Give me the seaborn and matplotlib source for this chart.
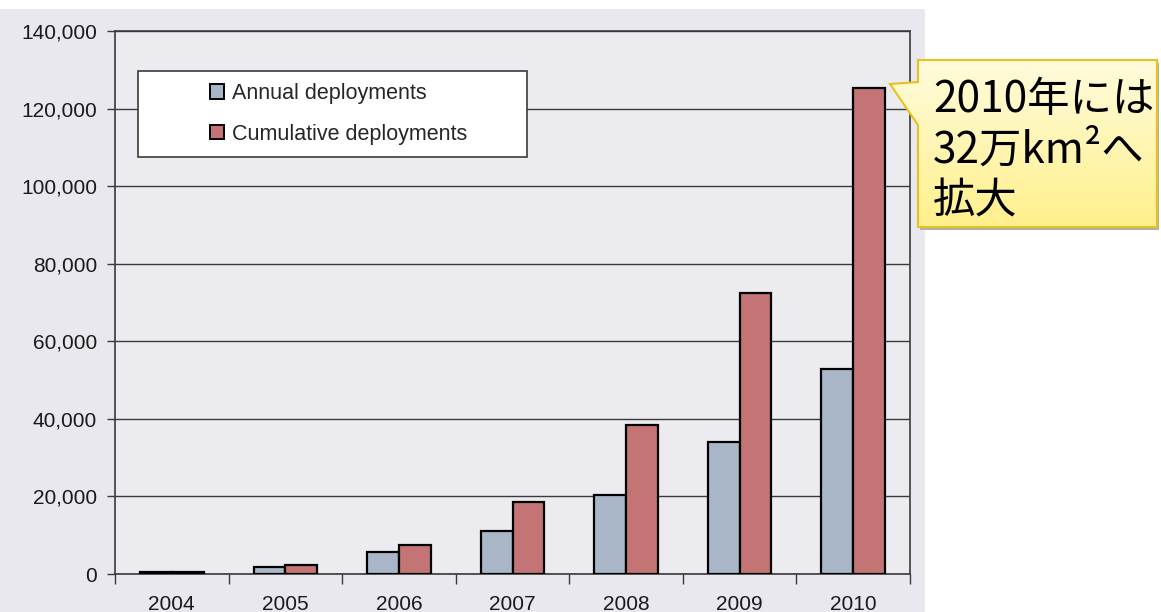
import numpy as np
import pandas as pd
import matplotlib
matplotlib.use("Agg")
import matplotlib.pyplot as plt
import seaborn as sns
from matplotlib.patches import Rectangle, Polygon
from matplotlib.ticker import FuncFormatter, FixedLocator
from matplotlib.colors import LinearSegmentedColormap

years = ["2004", "2005", "2006", "2007", "2008", "2009", "2010"]
annual = [400, 1800, 5600, 11100, 20400, 34000, 52900]
cumulative = [400, 2300, 7400, 18500, 38400, 72500, 125300]
series_names = ["Annual deployments", "Cumulative deployments"]
colors = ["#A8B6C8", "#C47474"]
callout_text = "2010年には\n32万km²へ\n拡大"

sns.set_theme(style="white")
plt.rcParams["font.family"] = ["Liberation Sans", "Noto Sans CJK JP", "DejaVu Sans"]

df = pd.DataFrame({
    "year": years * 2,
    "value": annual + cumulative,
    "series": [series_names[0]] * len(years) + [series_names[1]] * len(years),
})

W, H = 1161, 612
fig = plt.figure(figsize=(W / 100, H / 100), dpi=100)
fig.patch.set_facecolor("white")
fig.patches.append(Rectangle((0, 0), 925 / W, 603 / H, transform=fig.transFigure,
                             facecolor="#E9E8EE", edgecolor="none", zorder=-10))

ax = fig.add_axes([115 / W, (H - 574) / H, (910 - 115) / W, (574 - 31) / H])
ax.set_facecolor("#ECEBF0")

sns.barplot(data=df, x="year", y="value", hue="series", palette=colors,
            width=0.56, edgecolor="black", linewidth=1.6, saturation=1,
            ax=ax, legend=False, zorder=3)

ax.set_ylim(0, 140000)
ax.set_xlim(-0.5, len(years) - 0.5)
ax.set_yticks(np.arange(0, 140001, 20000))
ax.yaxis.set_major_formatter(FuncFormatter(lambda v, p: f"{int(v):,}"))
ax.grid(axis="y", color="#3A3A3A", linewidth=1.0, zorder=0)
ax.set_axisbelow(True)
ax.set_xlabel("")
ax.set_ylabel("")

for s in ax.spines.values():
    s.set_color("#3A3A3A")
    s.set_linewidth(1.2)
    s.set_visible(True)

ax.tick_params(axis="y", length=6, width=1, color="#3A3A3A", labelsize=15,
               pad=7, labelcolor="#1A1A1A", left=True)
ax.tick_params(axis="x", which="major", length=0, labelsize=15, pad=15,
               labelcolor="#1A1A1A")
ax.xaxis.set_minor_locator(FixedLocator(np.arange(-0.5, len(years), 1.0)))
ax.tick_params(axis="x", which="minor", length=7, width=1, color="#3A3A3A",
               bottom=True)

# legend frame and entries
lx0, ly0 = ax.transAxes.inverted().transform(fig.transFigure.transform((138 / W, (H - 157) / H)))
lx1, ly1 = ax.transAxes.inverted().transform(fig.transFigure.transform((527 / W, (H - 71) / H)))
ax.add_patch(Rectangle((lx0, ly0), lx1 - lx0, ly1 - ly0, transform=ax.transAxes,
                       facecolor="white", edgecolor="#3A3A3A", linewidth=1.2, zorder=5))
handles = [Rectangle((0, 0), 1, 1, facecolor=c, edgecolor="black", linewidth=1.4) for c in colors]
hx, hy = ax.transAxes.inverted().transform(fig.transFigure.transform((193 / W, (H - 66) / H)))
leg = ax.legend(handles, series_names, loc="upper left", bbox_to_anchor=(hx, hy),
                frameon=False, fontsize=15.5, handlelength=0.65, handleheight=0.65,
                handletextpad=0.35, labelspacing=0.9, borderpad=0.3)
leg.set_zorder(6)

# callout
cax = fig.add_axes([0, 0, 1, 1], facecolor="none")
cax.set_xlim(0, W)
cax.set_ylim(H, 0)
cax.axis("off")
pts = [(918, 60), (1157, 60), (1157, 227), (918, 227), (918, 125), (890, 84), (918, 82)]
shadow = Polygon([(x + 2, y + 3) for x, y in pts], closed=True, facecolor="#B0B0B0",
                 edgecolor="none", zorder=1)
cax.add_patch(shadow)
poly = Polygon(pts, closed=True, facecolor="none", edgecolor="#E6C21E", linewidth=1.5, zorder=3)
cax.add_patch(poly)
grad = np.linspace(0, 1, 256).reshape(-1, 1)
cmap = LinearSegmentedColormap.from_list("yl", ["#FFFBDC", "#FFF08C"])
im = cax.imshow(grad, cmap=cmap, extent=(885, 1160, 227, 60), aspect="auto", zorder=2)
im.set_clip_path(poly)
cax.text(933, 78, callout_text, ha="left", va="top", fontsize=30.5, linespacing=1.2,
         color="black", family=["Noto Sans CJK JP", "DejaVu Sans"], zorder=4)

fig.savefig("out.png", dpi=100)
